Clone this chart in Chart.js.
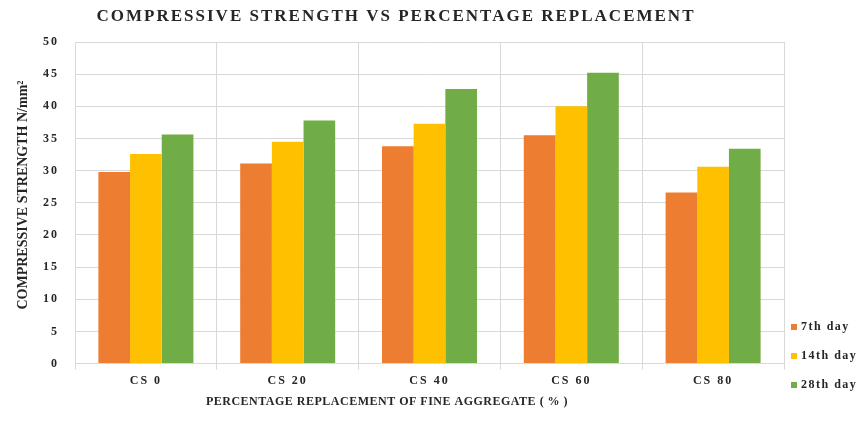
<!DOCTYPE html>
<html>
<head>
<meta charset="utf-8">
<script src="https://cdn.jsdelivr.net/npm/chart.js@4.4.1/dist/chart.umd.min.js"></script>
<style>
  html, body { margin: 0; padding: 0; background: #ffffff; }
  #wrap { position: relative; width: 865px; height: 430px; }
  canvas { display: block; }
</style>
</head>
<body>
<div id="wrap"><canvas id="chart" width="865" height="430"></canvas></div>
<script>
// Compressive strength (N/mm²) at each curing age for each replacement level
const categories = ['CS 0', 'CS 20', 'CS 40', 'CS 60', 'CS 80'];
const day7  = [29.8, 31.1, 33.8, 35.5, 26.6];
const day14 = [32.6, 34.5, 37.3, 40.0, 30.6];
const day28 = [35.6, 37.8, 42.7, 45.2, 33.4];
const seriesLabels = ['7th day', '14th day', '28th day'];
const seriesColors = ['#ED7D31', '#FFC000', '#70AD47'];
const yTicks = [0, 5, 10, 15, 20, 25, 30, 35, 40, 45, 50];

const chartTitle = 'COMPRESSIVE STRENGTH VS PERCENTAGE REPLACEMENT';
const xTitle = 'PERCENTAGE REPLACEMENT OF FINE AGGREGATE ( % )';
const yTitle = 'COMPRESSIVE STRENGTH N/mm\u00B2';

const SERIF = "'Liberation Serif', 'Times New Roman', serif";
const INK = '#262626';

// Tracked serif lettering for tick labels
const tracking = {
  id: 'tracking',
  beforeLayout(chart) { chart.ctx.letterSpacing = '2px'; },
  beforeDraw(chart) { chart.ctx.letterSpacing = '2px'; }
};

function drawText(ctx, text, x, y, size, spacing, rotate) {
  ctx.save();
  ctx.letterSpacing = spacing + 'px';
  ctx.font = 'bold ' + size + 'px ' + SERIF;
  ctx.fillStyle = INK;
  ctx.textAlign = 'center';
  ctx.textBaseline = 'middle';
  ctx.translate(x, y);
  if (rotate) ctx.rotate(-Math.PI / 2);
  ctx.fillText(text, 0, 0);
  ctx.restore();
}

// Heading, axis titles and the series key
const annotations = {
  id: 'annotations',
  afterDraw(chart) {
    const ctx = chart.ctx;
    drawText(ctx, chartTitle, 396, 17, 17, 2, false);
    drawText(ctx, yTitle, 23, 195, 14, 0, true);
    drawText(ctx, xTitle, 387, 402, 12, 0.5, false);

    // key: small swatch + label, stacked at the lower right
    const rows = [327, 356, 385];
    chart.data.datasets.forEach((ds, i) => {
      ctx.save();
      ctx.fillStyle = ds.backgroundColor;
      ctx.fillRect(791, rows[i] - 3, 6, 6);
      ctx.letterSpacing = '1.5px';
      ctx.font = 'bold 12px ' + SERIF;
      ctx.fillStyle = INK;
      ctx.textAlign = 'left';
      ctx.textBaseline = 'middle';
      ctx.fillText(ds.label, 801, rows[i]);
      ctx.restore();
    });
  }
};

new Chart(document.getElementById('chart'), {
  type: 'bar',
  data: {
    labels: categories,
    datasets: [
      { label: seriesLabels[0], data: day7,  backgroundColor: seriesColors[0] },
      { label: seriesLabels[1], data: day14, backgroundColor: seriesColors[1] },
      { label: seriesLabels[2], data: day28, backgroundColor: seriesColors[2] }
    ]
  },
  plugins: [tracking, annotations],
  options: {
    responsive: false,
    animation: false,
    devicePixelRatio: 1,
    layout: { padding: { top: 42, bottom: 38, left: 30, right: 81 } },
    datasets: { bar: { barPercentage: 1.0, categoryPercentage: 0.67, borderWidth: 0 } },
    plugins: {
      title: { display: false },
      legend: { display: false },
      tooltip: { enabled: false }
    },
    scales: {
      x: {
        grid: { color: '#d9d9d9', lineWidth: 1, tickLength: 6, drawTicks: true },
        border: { color: '#d9d9d9' },
        ticks: { color: INK, padding: 4, font: { family: SERIF, size: 12, weight: 'bold' } }
      },
      y: {
        min: 0,
        max: 50,
        afterBuildTicks(scale) { scale.ticks = yTicks.map(v => ({ value: v })); },
        afterFit(scale) { scale.width = 45; },
        grid: { color: '#d9d9d9', lineWidth: 1, drawTicks: false },
        border: { display: false },
        ticks: { color: INK, padding: 16, font: { family: SERIF, size: 12, weight: 'bold' } }
      }
    }
  }
});
</script>
</body>
</html>
